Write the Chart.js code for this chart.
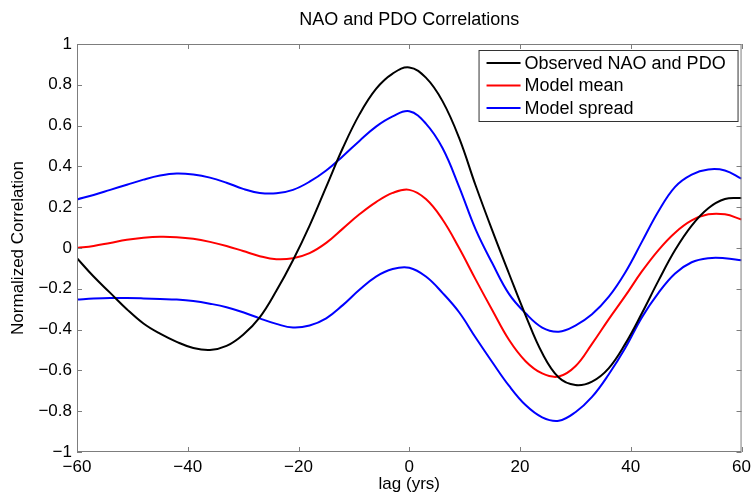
<!DOCTYPE html>
<html>
<head>
<meta charset="utf-8">
<script src="https://cdn.jsdelivr.net/npm/chart.js@4/dist/chart.umd.min.js"></script>
<style>
    html, body { margin: 0; padding: 0; background: #fff; }
</style>
</head>
<body>
<canvas id="corrChart" width="756" height="498"></canvas>
<script>
const lags = [-60, -57, -54, -51, -48, -45, -42, -39, -36, -33, -30, -27, -24, -21, -18, -15, -12, -9, -6, -3,
    0, 3, 6, 9, 12, 15, 18, 21, 24, 27, 30, 33, 36, 39, 42, 45, 48, 51, 54, 57, 60];

const observed = [-0.05, -0.14, -0.22, -0.30, -0.37, -0.42, -0.46, -0.49, -0.50, -0.48, -0.425, -0.34, -0.21, -0.06, 0.11, 0.30, 0.49, 0.655, 0.78, 0.855,
    0.885, 0.835, 0.72, 0.54, 0.305, 0.085, -0.125, -0.33, -0.515, -0.635, -0.672, -0.655, -0.59, -0.47, -0.32, -0.16, -0.01, 0.11, 0.195, 0.24, 0.245];

const modelMean = [0.0, 0.01, 0.025, 0.04, 0.05, 0.055, 0.053, 0.045, 0.03, 0.01, -0.015, -0.04, -0.055, -0.05, -0.025, 0.025, 0.095, 0.165, 0.225, 0.27,
    0.285, 0.24, 0.14, 0.0, -0.155, -0.305, -0.45, -0.555, -0.615, -0.63, -0.58, -0.47, -0.35, -0.235, -0.115, -0.01, 0.075, 0.135, 0.165, 0.165, 0.14];

const spreadUpper = [0.238, 0.26, 0.285, 0.31, 0.335, 0.355, 0.365, 0.36, 0.345, 0.32, 0.29, 0.27, 0.268, 0.285, 0.325, 0.38, 0.45, 0.525, 0.595, 0.645,
    0.67, 0.61, 0.49, 0.30, 0.09, -0.075, -0.225, -0.32, -0.39, -0.41, -0.38, -0.325, -0.24, -0.12, 0.03, 0.18, 0.30, 0.36, 0.385, 0.38, 0.34];

const spreadLower = [-0.253, -0.248, -0.245, -0.245, -0.247, -0.25, -0.253, -0.26, -0.273, -0.29, -0.315, -0.345, -0.372, -0.39, -0.38, -0.345, -0.28, -0.205, -0.14, -0.103,
    -0.097, -0.14, -0.22, -0.315, -0.44, -0.56, -0.675, -0.77, -0.83, -0.847, -0.805, -0.73, -0.62, -0.49, -0.34, -0.22, -0.125, -0.07, -0.05, -0.05, -0.06];

const xTicks = [-60, -40, -20, 0, 20, 40, 60];
const yTicks = [-1, -0.8, -0.6, -0.4, -0.2, 0, 0.2, 0.4, 0.6, 0.8, 1];

const FONT = "'Liberation Sans', Arial, Helvetica, sans-serif";
const AXIS_GREY = "#7d7d7d";

function fmt(v) {
    const s = String(Math.round(v * 10) / 10);
    return s.replace("-", "\u2212");
}

function series(values) {
    return values.map((v, i) => ({ x: lags[i], y: v }));
}

// matlab style box with inward ticks on all four sides
const boxTicks = {
    id: "boxTicks",
    afterDatasetsDraw(chart) {
        const { ctx, chartArea: a, scales: { x, y } } = chart;
        const len = 5;
        ctx.save();
        ctx.strokeStyle = AXIS_GREY;
        ctx.lineWidth = 1;
        ctx.strokeRect(a.left + 0.5, a.top + 0.5, a.right - a.left - 1, a.bottom - a.top - 1);
        ctx.beginPath();
        xTicks.forEach(t => {
            const px = Math.round(x.getPixelForValue(t)) + 0.5;
            ctx.moveTo(px, a.bottom);
            ctx.lineTo(px, a.bottom - len);
            ctx.moveTo(px, a.top);
            ctx.lineTo(px, a.top + len);
        });
        yTicks.forEach(t => {
            const py = Math.round(y.getPixelForValue(t)) + 0.5;
            ctx.moveTo(a.left, py);
            ctx.lineTo(a.left + len, py);
            ctx.moveTo(a.right, py);
            ctx.lineTo(a.right - len, py);
        });
        ctx.stroke();
        ctx.restore();
    }
};

const boxLegend = {
    id: "boxLegend",
    afterDraw(chart) {
        const { ctx, chartArea: a } = chart;
        const seen = [];
        chart.data.datasets.forEach(d => {
            if (!seen.find(s => s.label === d.label)) seen.push(d);
        });
        const right = a.right - 4;
        const left = right - 259;
        const top = a.top + 6;
        const rowH = 22.5;
        ctx.save();
        ctx.fillStyle = "#fff";
        ctx.fillRect(left, top, right - left, 71);
        ctx.strokeStyle = "#333";
        ctx.lineWidth = 1;
        ctx.strokeRect(left + 0.5, top + 0.5, right - left, 71);
        ctx.font = "18px " + FONT;
        ctx.textBaseline = "middle";
        seen.forEach((d, i) => {
            const cy = top + 13 + i * rowH;
            ctx.strokeStyle = d.borderColor;
            ctx.lineWidth = 2;
            ctx.beginPath();
            ctx.moveTo(left + 8, cy);
            ctx.lineTo(left + 42, cy);
            ctx.stroke();
            ctx.fillStyle = "#000";
            ctx.fillText(d.label, left + 46, cy + 1);
        });
        ctx.restore();
    }
};

const plotTitle = {
    id: "plotTitle",
    afterDraw(chart) {
        const { ctx, chartArea: a } = chart;
        ctx.save();
        ctx.font = "18px " + FONT;
        ctx.fillStyle = "#000";
        ctx.textAlign = "center";
        ctx.textBaseline = "middle";
        ctx.fillText("NAO and PDO Correlations", (a.left + a.right) / 2, 20);
        ctx.restore();
    }
};

function lineSet(label, values, color) {
    return {
        label: label,
        data: series(values),
        borderColor: color,
        backgroundColor: color,
        borderWidth: 2,
        pointRadius: 0,
        tension: 0.4,
        fill: false
    };
}

new Chart(document.getElementById("corrChart"), {
    type: "line",
    data: {
        datasets: [
            lineSet("Observed NAO and PDO", observed, "#000000"),
            lineSet("Model mean", modelMean, "#ff0000"),
            lineSet("Model spread", spreadUpper, "#0000ff"),
            lineSet("Model spread", spreadLower, "#0000ff")
        ]
    },
    options: {
        responsive: false,
        animation: false,
        layout: { padding: { top: 44, right: 14, left: 0, bottom: 0 } },
        plugins: {
            legend: { display: false },
            title: { display: false },
            tooltip: { enabled: false }
        },
        scales: {
            x: {
                type: "linear",
                min: -60,
                max: 60,
                grid: { display: false, drawTicks: false },
                border: { display: false },
                afterBuildTicks: s => { s.ticks = xTicks.map(v => ({ value: v })); },
                afterFit: s => { s.height = 46; },
                ticks: {
                    color: "#000",
                    padding: 5,
                    maxRotation: 0,
                    font: { family: FONT, size: 17 },
                    callback: v => fmt(v)
                },
                title: {
                    display: true,
                    text: "lag (yrs)",
                    color: "#000",
                    font: { family: FONT, size: 17 },
                    padding: { top: 0, bottom: 3 }
                }
            },
            y: {
                min: -1,
                max: 1,
                grid: { display: false, drawTicks: false },
                border: { display: false },
                afterBuildTicks: s => { s.ticks = yTicks.map(v => ({ value: v })); },
                afterFit: s => { s.width = 77; },
                ticks: {
                    color: "#000",
                    padding: 5,
                    font: { family: FONT, size: 17 },
                    callback: v => fmt(v)
                },
                title: {
                    display: true,
                    text: "Normalized Correlation",
                    color: "#000",
                    font: { family: FONT, size: 17 },
                    padding: { top: 8, bottom: 0 }
                }
            }
        }
    },
    plugins: [boxTicks, boxLegend, plotTitle]
});
</script>
</body>
</html>
